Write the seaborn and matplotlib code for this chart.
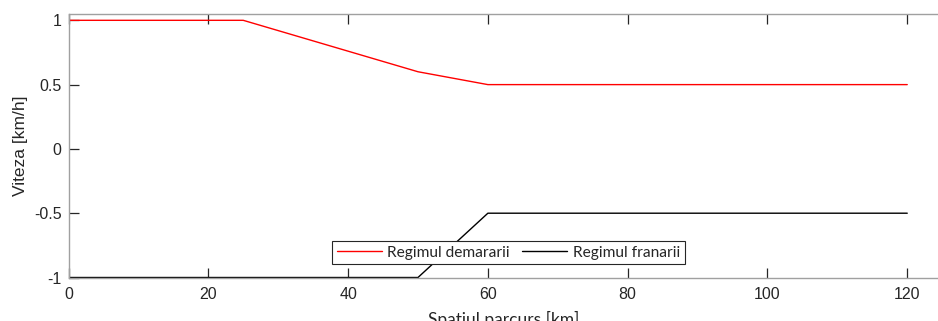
import matplotlib
matplotlib.use("Agg")
import matplotlib.pyplot as plt
import seaborn as sns
import pandas as pd

# distance [km] and speed [km/h] for both regimes
dist_demarare = [0, 25, 50, 60, 120]
vit_demarare = [1, 1, 0.6, 0.5, 0.5]
dist_franare = [0, 50, 60, 120]
vit_franare = [-1, -1, -0.5, -0.5]

x_ticks = [0, 20, 40, 60, 80, 100, 120]
y_ticks = [-1, -0.5, 0, 0.5, 1]
y_tick_labels = ["-1", "-0.5", "0", "0.5", "1"]

sns.set_style("white")
plt.rcParams['font.family'] = ['Liberation Sans', 'DejaVu Sans']

df_d = pd.DataFrame({"x": dist_demarare, "y": vit_demarare})
df_f = pd.DataFrame({"x": dist_franare, "y": vit_franare})

fig = plt.figure(figsize=(9.38, 3.21), dpi=100)
ax = fig.add_axes([68.5 / 938, (321 - 277.5) / 321, 1 - 68.5 / 938, 264 / 321])

sns.lineplot(data=df_d, x="x", y="y", color="#ff0000", linewidth=1.0,
             label="Regimul demararii", ax=ax, sort=False)
sns.lineplot(data=df_f, x="x", y="y", color="#000000", linewidth=1.0,
             label="Regimul franarii", ax=ax, sort=False)

ax.set_xlim(0, 124.4)
ax.set_ylim(-1, 1.053)
ax.set_xticks(x_ticks)
ax.set_yticks(y_ticks)
ax.set_yticklabels(y_tick_labels)

for s in ax.spines.values():
    s.set_color("#a0a0a0")
    s.set_linewidth(1.0)
ax.spines["right"].set_visible(False)

ax.tick_params(axis="both", direction="in", length=7, width=0.9, color="#262626",
               labelsize=11.5, labelcolor="#262626", top=True, bottom=True, left=True,
               right=False)
ax.tick_params(axis="x", pad=7)
ax.tick_params(axis="y", pad=5)
for t in ax.get_xticklabels() + ax.get_yticklabels():
    t.set_family(["Liberation Sans", "DejaVu Sans"])

# the x label sits partly below the figure edge, as in the source image
ax.set_xlabel("Spatiul parcurs [km]", fontsize=12.5, family=["Lato", "DejaVu Sans"],
              color="#262626", labelpad=6)
ax.set_ylabel("Viteza [km/h]", fontsize=12.5, family=["Liberation Sans", "DejaVu Sans"],
              color="#262626", labelpad=4)

leg = ax.legend(loc="lower center", bbox_to_anchor=(0.506, 0.05), ncol=2,
                frameon=True, fancybox=False, edgecolor="#262626", framealpha=1,
                prop={"family": ["Lato", "DejaVu Sans"], "size": 11.2},
                handlelength=2.9, columnspacing=0.8, borderpad=0.3,
                handletextpad=0.35, borderaxespad=0)
leg.get_frame().set_linewidth(0.8)

fig.savefig("out.png", dpi=100)
